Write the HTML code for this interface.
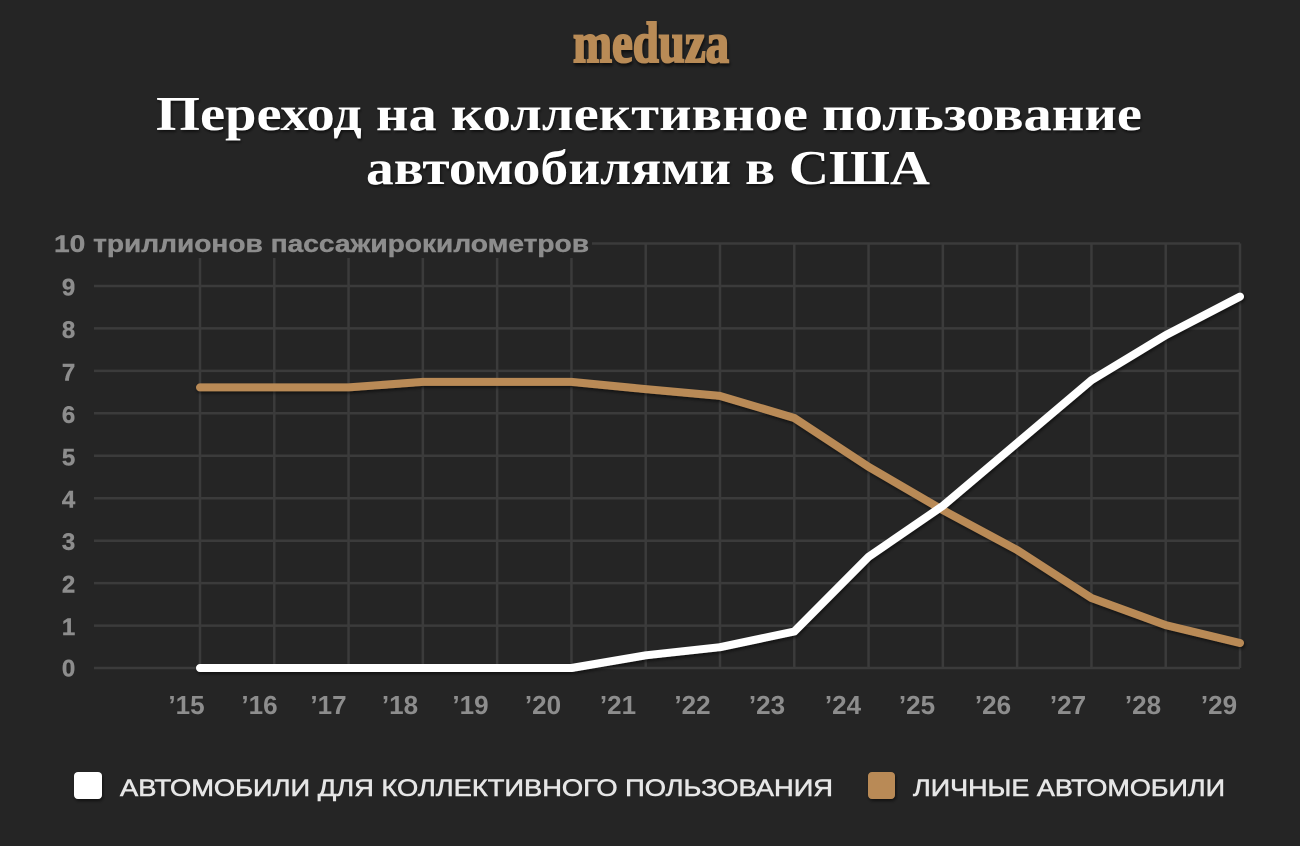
<!DOCTYPE html>
<html>
<head>
<meta charset="utf-8">
<style>
  html, body { margin:0; padding:0; background:#252525; }
  body { width:1300px; height:846px; overflow:hidden; }
  svg { display:block; }
</style>
</head>
<body>
<svg width="1300" height="846" viewBox="0 0 1300 846" xmlns="http://www.w3.org/2000/svg">
  <defs>
    <filter id="sh" x="-10%" y="-10%" width="120%" height="130%">
      <feDropShadow dx="1" dy="2" stdDeviation="1.5" flood-color="#000" flood-opacity="0.55"/>
    </filter>
    <filter id="tsh" x="-5%" y="-10%" width="110%" height="130%">
      <feDropShadow dx="1" dy="2" stdDeviation="1.2" flood-color="#000" flood-opacity="0.6"/>
    </filter>
  </defs>
  <rect x="0" y="0" width="1300" height="846" fill="#252525"/>

  <!-- logo -->
  <g transform="translate(651,62) scale(1,1.3)">
    <text x="0" y="0" text-anchor="middle" font-family="'Liberation Serif', serif" font-weight="bold" font-size="44" fill="#b98b57" stroke="#b98b57" stroke-width="1.6" textLength="156" lengthAdjust="spacingAndGlyphs" filter="url(#tsh)">meduza</text>
  </g>

  <!-- title -->
  <g font-family="'Liberation Serif', 'Noto Serif CJK SC', serif" font-weight="bold" font-size="49" fill="#ffffff" filter="url(#tsh)">
    <text x="156" y="130" textLength="986" lengthAdjust="spacingAndGlyphs">Переход на коллективное пользование</text>
    <text x="366" y="184" textLength="564" lengthAdjust="spacingAndGlyphs">автомобилями в США</text>
  </g>

  <!-- grid -->
  <g stroke="#3b3b3b" stroke-width="2.5">
    <line x1="94" y1="243.5" x2="1240" y2="243.5"/>
    <line x1="94" y1="286" x2="1240" y2="286"/>
    <line x1="94" y1="328.4" x2="1240" y2="328.4"/>
    <line x1="94" y1="370.9" x2="1240" y2="370.9"/>
    <line x1="94" y1="413.3" x2="1240" y2="413.3"/>
    <line x1="94" y1="455.8" x2="1240" y2="455.8"/>
    <line x1="94" y1="498.2" x2="1240" y2="498.2"/>
    <line x1="94" y1="540.7" x2="1240" y2="540.7"/>
    <line x1="94" y1="583.1" x2="1240" y2="583.1"/>
    <line x1="94" y1="625.6" x2="1240" y2="625.6"/>
    <line x1="94" y1="668" x2="1240" y2="668"/>
    <line x1="200" y1="243.5" x2="200" y2="668"/>
    <line x1="274.29" y1="243.5" x2="274.29" y2="668"/>
    <line x1="348.57" y1="243.5" x2="348.57" y2="668"/>
    <line x1="422.86" y1="243.5" x2="422.86" y2="668"/>
    <line x1="497.14" y1="243.5" x2="497.14" y2="668"/>
    <line x1="571.43" y1="243.5" x2="571.43" y2="668"/>
    <line x1="645.71" y1="243.5" x2="645.71" y2="668"/>
    <line x1="720" y1="243.5" x2="720" y2="668"/>
    <line x1="794.29" y1="243.5" x2="794.29" y2="668"/>
    <line x1="868.57" y1="243.5" x2="868.57" y2="668"/>
    <line x1="942.86" y1="243.5" x2="942.86" y2="668"/>
    <line x1="1017.14" y1="243.5" x2="1017.14" y2="668"/>
    <line x1="1091.43" y1="243.5" x2="1091.43" y2="668"/>
    <line x1="1165.71" y1="243.5" x2="1165.71" y2="668"/>
    <line x1="1240" y1="243.5" x2="1240" y2="668"/>
  </g>

  <!-- mask behind unit label -->
  <rect x="48" y="226" width="544" height="32" fill="#252525"/>

  <!-- y labels -->
  <g font-family="'Liberation Sans', sans-serif" font-weight="bold" font-size="24" fill="#8d8d8d" stroke="#8d8d8d" stroke-width="0.4" text-anchor="middle">
    <text x="68.5" y="295.5">9</text>
    <text x="68.5" y="338">8</text>
    <text x="68.5" y="380.4">7</text>
    <text x="68.5" y="422.8">6</text>
    <text x="68.5" y="465.3">5</text>
    <text x="68.5" y="507.7">4</text>
    <text x="68.5" y="550.2">3</text>
    <text x="68.5" y="592.6">2</text>
    <text x="68.5" y="635">1</text>
    <text x="68.5" y="676.5">0</text>
  </g>
  <text x="54" y="252" font-family="'Liberation Sans', sans-serif" font-weight="bold" font-size="24" fill="#8d8d8d" stroke="#8d8d8d" stroke-width="0.4" textLength="535" lengthAdjust="spacingAndGlyphs">10 триллионов пассажирокилометров</text>

  <!-- x labels -->
  <g font-family="'Liberation Sans', sans-serif" font-weight="bold" font-size="26" fill="#8d8d8d" text-anchor="middle">
    <text x="186.5" y="714">’15</text>
    <text x="259.5" y="714">’16</text>
    <text x="328.5" y="714">’17</text>
    <text x="400" y="714">’18</text>
    <text x="470.5" y="714">’19</text>
    <text x="543" y="714">’20</text>
    <text x="618" y="714">’21</text>
    <text x="692.5" y="714">’22</text>
    <text x="767" y="714">’23</text>
    <text x="843" y="714">’24</text>
    <text x="917" y="714">’25</text>
    <text x="993" y="714">’26</text>
    <text x="1068" y="714">’27</text>
    <text x="1143" y="714">’28</text>
    <text x="1219" y="714">’29</text>
  </g>

  <!-- series -->
  <g fill="none" stroke-width="8" stroke-linecap="round" stroke-linejoin="round" filter="url(#sh)">
    <polyline stroke="#b98a56" points="200,387.4 274.29,387.4 348.57,387.4 422.86,381.9 497.14,381.9 571.43,381.9 645.71,389.1 720,395.9 794.29,418 868.57,466.8 942.86,510.1 1017.14,550 1091.43,598 1165.71,625.1 1240,643"/>
    <polyline stroke="#ffffff" points="200,668 274.29,668 348.57,668 422.86,668 497.14,668 571.43,668 645.71,655.3 720,647.2 794.29,631.5 868.57,556.8 942.86,505.8 1017.14,443 1091.43,380.2 1165.71,335.2 1240,296.6"/>
  </g>

  <!-- legend -->
  <rect x="74" y="772" width="28" height="27" rx="4" fill="#ffffff" filter="url(#sh)"/>
  <text x="120" y="796" font-family="'Liberation Sans', sans-serif" font-size="24" fill="#e6e6e6" stroke="#e6e6e6" stroke-width="0.6" textLength="713" lengthAdjust="spacingAndGlyphs">АВТОМОБИЛИ ДЛЯ КОЛЛЕКТИВНОГО ПОЛЬЗОВАНИЯ</text>
  <rect x="868" y="772" width="27" height="27" rx="4" fill="#b98a56" filter="url(#sh)"/>
  <text x="913" y="796" font-family="'Liberation Sans', sans-serif" font-size="24" fill="#e6e6e6" stroke="#e6e6e6" stroke-width="0.6" textLength="312" lengthAdjust="spacingAndGlyphs">ЛИЧНЫЕ АВТОМОБИЛИ</text>
</svg>
</body>
</html>
